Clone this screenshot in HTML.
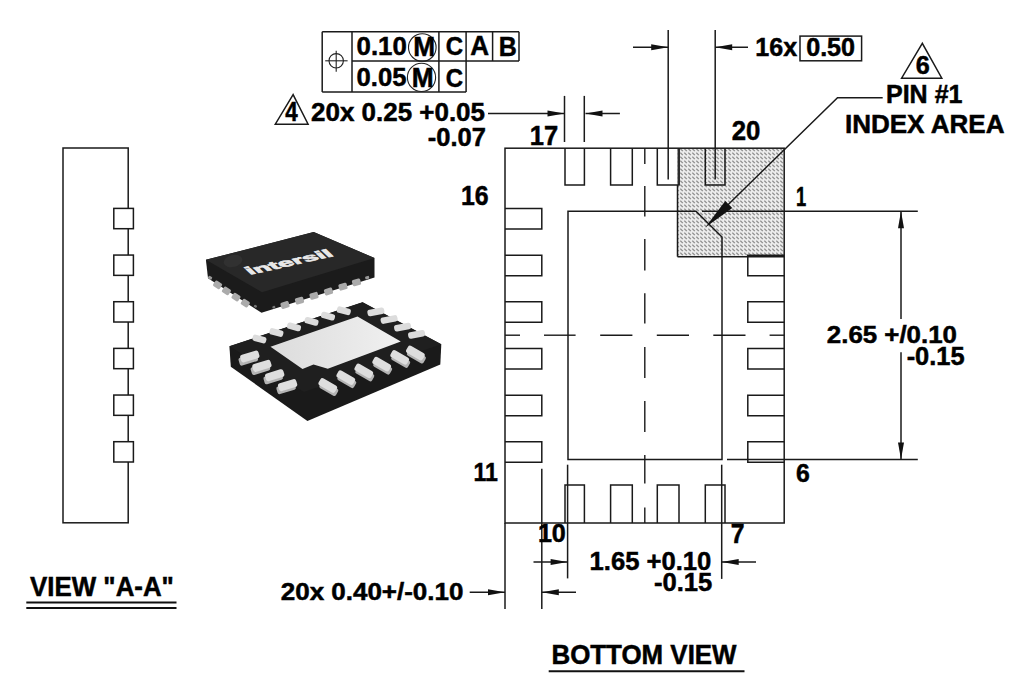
<!DOCTYPE html>
<html><head><meta charset="utf-8"><style>
html,body{margin:0;padding:0;background:#fff;width:1024px;height:685px;overflow:hidden}
svg{display:block}
.ln{stroke:#1a1a1a;stroke-width:1.5;fill:none}
.thin{stroke:#222;stroke-width:1.1;fill:none}
.cl{stroke:#1a1a1a;stroke-width:1.4;fill:none}
.ul{stroke:#111;stroke-width:2;fill:none}
.ah{fill:#111;stroke:none}
text{font-family:"Liberation Sans", sans-serif;font-weight:bold;fill:#000;stroke:#000;stroke-width:0.5}
</style></head><body>
<svg width="1024" height="685" viewBox="0 0 1024 685">
<defs>
<pattern id="hatch" width="4" height="4" patternUnits="userSpaceOnUse">
<rect width="4" height="4" fill="#ececec"/>
<path d="M0.3,0.6 L2.8,3.1" stroke="#8c8c8c" stroke-width="1.3"/>
</pattern>
</defs>
<g id="chips">
<defs>
<linearGradient id="epg" x1="0" y1="0" x2="1" y2="0">
<stop offset="0" stop-color="#dcdcdc"/><stop offset="1" stop-color="#f0f0f0"/>
</linearGradient>
</defs>
<path d="M205.9,259.8 L313.7,232.1 L374.5,258 L374.5,277.6 L261.5,312.8 L208,278.2 Z" fill="#1b1b1b"/>
<path d="M205.9,259.8 L313.7,232.1 L374.5,258 L262,292.2 Z" fill="#282828"/>
<ellipse cx="233" cy="261" rx="9.5" ry="6" fill="#313131" transform="rotate(-14 233 261)"/>
<rect x="-4.0" y="-3.25" width="8" height="6.5" rx="1.5" fill="#ababab" transform="translate(217.6,284.8) rotate(33)"/>
<rect x="-4.0" y="-3.25" width="8" height="6.5" rx="1.5" fill="#ababab" transform="translate(226.4,290.9) rotate(33)"/>
<rect x="-4.0" y="-3.25" width="8" height="6.5" rx="1.5" fill="#ababab" transform="translate(236.0,297.1) rotate(33)"/>
<rect x="-4.0" y="-3.25" width="8" height="6.5" rx="1.5" fill="#ababab" transform="translate(245.3,303.2) rotate(33)"/>
<rect x="-4.25" y="-3.25" width="8.5" height="6.5" rx="1.5" fill="#ababab" transform="translate(285.0,305.0) rotate(-16)"/>
<rect x="-4.25" y="-3.25" width="8.5" height="6.5" rx="1.5" fill="#ababab" transform="translate(299.5,300.6) rotate(-16)"/>
<rect x="-4.25" y="-3.25" width="8.5" height="6.5" rx="1.5" fill="#ababab" transform="translate(314.0,295.8) rotate(-16)"/>
<rect x="-4.25" y="-3.25" width="8.5" height="6.5" rx="1.5" fill="#ababab" transform="translate(328.5,291.5) rotate(-16)"/>
<rect x="-4.25" y="-3.25" width="8.5" height="6.5" rx="1.5" fill="#ababab" transform="translate(343.0,286.7) rotate(-16)"/>
<rect x="-4.25" y="-3.25" width="8.5" height="6.5" rx="1.5" fill="#ababab" transform="translate(356.5,282.4) rotate(-16)"/>
<rect x="-2.0" y="-1.5" width="4" height="3" rx="1" fill="#999" transform="translate(210.1,277.7) rotate(33)"/>
<rect x="-2.0" y="-1.5" width="4" height="3" rx="1" fill="#999" transform="translate(367.2,277.6) rotate(-16)"/>
<rect x="-1.5" y="-1.25" width="3" height="2.5" rx="1" fill="#777" transform="translate(255.4,306.3) rotate(33)"/>
<rect x="-1.5" y="-1.25" width="3" height="2.5" rx="1" fill="#777" transform="translate(273.8,307.2) rotate(-16)"/>
<text x="0" y="0" font-size="14" style="font-family:'Liberation Sans', sans-serif;font-weight:bold;fill:#e8e8e8;stroke:#e8e8e8;stroke-width:0.8" transform="matrix(1.845,-0.412,0.73,0.69,250,274.8)">intersil</text>
<path d="M229.4,346.2 L362.6,302.3 L441.3,344.2 L440.3,364.6 L307.4,420.9 L230.8,366.8 Z" fill="#1a1a1a"/>
<path d="M229.4,346.2 L362.6,302.3 L441.3,344.2 L304,392 Z" fill="#1f1f1f"/>
<path d="M270.5,346.7 L357.5,316.6 L400.8,341.5 L327.8,368.7 L313.5,364.5 L302.5,369.1 Z" fill="url(#epg)"/>
<rect x="-7.0" y="-3.25" width="14" height="6.5" rx="2.5" fill="#dcdcdc" transform="translate(259.4,339.0) rotate(15)"/>
<rect x="-7.0" y="-3.25" width="14" height="6.5" rx="2.5" fill="#dcdcdc" transform="translate(276.4,332.5) rotate(15)"/>
<rect x="-7.0" y="-3.25" width="14" height="6.5" rx="2.5" fill="#dcdcdc" transform="translate(294.0,326.9) rotate(15)"/>
<rect x="-7.0" y="-3.25" width="14" height="6.5" rx="2.5" fill="#dcdcdc" transform="translate(311.5,321.4) rotate(15)"/>
<rect x="-7.0" y="-3.25" width="14" height="6.5" rx="2.5" fill="#dcdcdc" transform="translate(328.0,316.1) rotate(15)"/>
<rect x="-7.0" y="-3.25" width="14" height="6.5" rx="2.5" fill="#dcdcdc" transform="translate(343.8,310.8) rotate(15)"/>
<rect x="-8.5" y="-3.25" width="17" height="6.5" rx="2.5" fill="#dcdcdc" transform="translate(375.9,311.9) rotate(-11)"/>
<rect x="-8.5" y="-3.25" width="17" height="6.5" rx="2.5" fill="#dcdcdc" transform="translate(389.1,319.5) rotate(-11)"/>
<rect x="-8.5" y="-3.25" width="17" height="6.5" rx="2.5" fill="#dcdcdc" transform="translate(402.6,327.1) rotate(-11)"/>
<rect x="-8.5" y="-3.25" width="17" height="6.5" rx="2.5" fill="#dcdcdc" transform="translate(416.6,334.4) rotate(-11)"/>
<rect x="-9.5" y="-4.0" width="19" height="8" rx="2" fill="#b4b4b4" transform="translate(248.3,359.5) rotate(-17)"/>
<rect x="-9.5" y="-4.0" width="19" height="8" rx="2.5" fill="#dedede" transform="translate(249.8,356.5) rotate(-17)"/>
<rect x="-9.5" y="-4.0" width="19" height="8" rx="2" fill="#b4b4b4" transform="translate(260.4,368.9) rotate(-17)"/>
<rect x="-9.5" y="-4.0" width="19" height="8" rx="2.5" fill="#dedede" transform="translate(261.9,365.9) rotate(-17)"/>
<rect x="-9.5" y="-4.0" width="19" height="8" rx="2" fill="#b4b4b4" transform="translate(273.2,378.2) rotate(-17)"/>
<rect x="-9.5" y="-4.0" width="19" height="8" rx="2.5" fill="#dedede" transform="translate(274.7,375.2) rotate(-17)"/>
<rect x="-9.5" y="-4.0" width="19" height="8" rx="2" fill="#b4b4b4" transform="translate(286.1,388.1) rotate(-17)"/>
<rect x="-9.5" y="-4.0" width="19" height="8" rx="2.5" fill="#dedede" transform="translate(287.6,385.1) rotate(-17)"/>
<rect x="-9.5" y="-4.0" width="19" height="8" rx="2" fill="#b4b4b4" transform="translate(328.8,388.5) rotate(30)"/>
<rect x="-9.5" y="-4.0" width="19" height="8" rx="2.5" fill="#dedede" transform="translate(327.8,385.5) rotate(30)"/>
<rect x="-9.5" y="-4.0" width="19" height="8" rx="2" fill="#b4b4b4" transform="translate(346.8,380.6) rotate(30)"/>
<rect x="-9.5" y="-4.0" width="19" height="8" rx="2.5" fill="#dedede" transform="translate(345.8,377.6) rotate(30)"/>
<rect x="-9.5" y="-4.0" width="19" height="8" rx="2" fill="#b4b4b4" transform="translate(364.8,373.9) rotate(30)"/>
<rect x="-9.5" y="-4.0" width="19" height="8" rx="2.5" fill="#dedede" transform="translate(363.8,370.9) rotate(30)"/>
<rect x="-9.5" y="-4.0" width="19" height="8" rx="2" fill="#b4b4b4" transform="translate(382.7,367.1) rotate(30)"/>
<rect x="-9.5" y="-4.0" width="19" height="8" rx="2.5" fill="#dedede" transform="translate(381.7,364.1) rotate(30)"/>
<rect x="-9.5" y="-4.0" width="19" height="8" rx="2" fill="#b4b4b4" transform="translate(400.7,360.4) rotate(30)"/>
<rect x="-9.5" y="-4.0" width="19" height="8" rx="2.5" fill="#dedede" transform="translate(399.7,357.4) rotate(30)"/>
<rect x="-9.5" y="-4.0" width="19" height="8" rx="2" fill="#b4b4b4" transform="translate(416.4,356.0) rotate(30)"/>
<rect x="-9.5" y="-4.0" width="19" height="8" rx="2.5" fill="#dedede" transform="translate(415.4,353.0) rotate(30)"/>
</g>
<rect x="677.5" y="148.2" width="107" height="108.5" fill="url(#hatch)"/>
<line class="ln" x1="677.5" y1="185" x2="677.5" y2="256.7"/>
<line class="ln" x1="677.5" y1="256.7" x2="784.2" y2="256.7"/>
<rect x="677.4" y="149" width="2.6" height="36" fill="#666"/>
<line class="ln" x1="322.2" y1="31.8" x2="519" y2="31.8"/>
<line class="ln" x1="352" y1="61.0" x2="519" y2="61.0"/>
<line class="ln" x1="322.2" y1="92.1" x2="466.1" y2="92.1"/>
<line class="ln" x1="322.2" y1="31.8" x2="322.2" y2="92.1"/>
<line class="ln" x1="352" y1="31.8" x2="352" y2="92.1"/>
<line class="ln" x1="438.9" y1="31.8" x2="438.9" y2="92.1"/>
<line class="ln" x1="466.1" y1="31.8" x2="466.1" y2="92.1"/>
<line class="ln" x1="492.6" y1="31.8" x2="492.6" y2="61.0"/>
<line class="ln" x1="519" y1="31.8" x2="519" y2="61.0"/>
<circle class="thin" cx="336.2" cy="60.8" r="7.2"/>
<line class="thin" x1="325.2" y1="60.8" x2="347.6" y2="60.8"/>
<line class="thin" x1="336.2" y1="50.8" x2="336.2" y2="71.7"/>
<circle class="thin" cx="422.3" cy="47.5" r="13.8"/>
<circle class="thin" cx="421.5" cy="77.4" r="14.1"/>
<path class="ln" d="M293.1,94.6 L275.3,124.2 L308.1,124.2 Z"/>
<path class="ln" d="M922.3,43.3 L901.6,78.2 L941.8,78.2 Z"/>
<line class="ln" x1="488" y1="113.4" x2="564.5" y2="113.4"/>
<path class="ah" d="M564.50,113.40 L547.50,110.40 L547.50,116.40 Z"/>
<line class="ln" x1="585.5" y1="113.4" x2="619.9" y2="113.4"/>
<path class="ah" d="M585.50,113.40 L602.50,116.40 L602.50,110.40 Z"/>
<line class="ln" x1="564.5" y1="95.9" x2="564.5" y2="142"/>
<line class="ln" x1="584.3" y1="95.9" x2="584.3" y2="142"/>
<line class="ln" x1="668.2" y1="30" x2="668.2" y2="179.5"/>
<line class="ln" x1="715.2" y1="30" x2="715.2" y2="179.5"/>
<line class="ln" x1="633" y1="47.3" x2="668.2" y2="47.3"/>
<path class="ah" d="M668.20,47.30 L651.20,44.30 L651.20,50.30 Z"/>
<line class="ln" x1="715.2" y1="47.3" x2="748" y2="47.3"/>
<path class="ah" d="M715.20,47.30 L732.20,50.30 L732.20,44.30 Z"/>
<rect class="ln" x="800" y="36.1" width="61.60" height="24.70"/>
<rect class="ln" x="505" y="148.2" width="279.20" height="374.80"/>
<path class="ln" d="M565,148.2 V185 H584.4 V148.2"/>
<path class="ln" d="M565,523 V485 H584.4 V523"/>
<path class="ln" d="M610.6,148.2 V185 H632.3 V148.2"/>
<path class="ln" d="M610.6,523 V485 H632.3 V523"/>
<path class="ln" d="M657.3,148.2 V185 H679 V148.2"/>
<path class="ln" d="M657.3,523 V485 H679 V523"/>
<path class="ln" d="M705.3,148.2 V185 H725 V148.2"/>
<path class="ln" d="M705.3,523 V485 H725 V523"/>
<path class="ln" d="M505,208.50 H541.8 V229.00 H505"/>
<path class="ln" d="M505,255.16 H541.8 V275.66 H505"/>
<path class="ln" d="M784.2,255.16 H747.8 V275.66 H784.2"/>
<path class="ln" d="M505,301.82 H541.8 V322.32 H505"/>
<path class="ln" d="M784.2,301.82 H747.8 V322.32 H784.2"/>
<path class="ln" d="M505,348.48 H541.8 V368.98 H505"/>
<path class="ln" d="M784.2,348.48 H747.8 V368.98 H784.2"/>
<path class="ln" d="M505,395.14 H541.8 V415.64 H505"/>
<path class="ln" d="M784.2,395.14 H747.8 V415.64 H784.2"/>
<path class="ln" d="M505,441.80 H541.8 V462.30 H505"/>
<path class="ln" d="M784.2,441.80 H747.8 V462.30 H784.2"/>
<path class="ln" d="M568,211.2 H696 L722,237 V459.5 H568 Z"/>
<line class="ln" x1="702" y1="211.2" x2="917.8" y2="211.2"/>
<line class="ln" x1="727" y1="459.5" x2="917.8" y2="459.5"/>
<line class="ln" x1="901" y1="211.2" x2="901" y2="319"/>
<line class="ln" x1="901" y1="352.3" x2="901" y2="459.5"/>
<path class="ah" d="M901.00,211.20 L898.00,228.20 L904.00,228.20 Z"/>
<path class="ah" d="M901.00,459.50 L904.00,442.50 L898.00,442.50 Z"/>
<line class="cl" x1="644.8" y1="148.2" x2="644.8" y2="164"/>
<line class="cl" x1="644.8" y1="186" x2="644.8" y2="216.5"/>
<line class="cl" x1="644.8" y1="239" x2="644.8" y2="270.5"/>
<line class="cl" x1="644.8" y1="293.3" x2="644.8" y2="323.5"/>
<line class="cl" x1="644.8" y1="347" x2="644.8" y2="378"/>
<line class="cl" x1="644.8" y1="401" x2="644.8" y2="432"/>
<line class="cl" x1="644.8" y1="455" x2="644.8" y2="483.5"/>
<line class="cl" x1="644.8" y1="507.4" x2="644.8" y2="523"/>
<line class="cl" x1="505" y1="335.2" x2="520" y2="335.2"/>
<line class="cl" x1="544" y1="335.2" x2="575.6" y2="335.2"/>
<line class="cl" x1="600.2" y1="335.2" x2="632.4" y2="335.2"/>
<line class="cl" x1="656.8" y1="335.2" x2="689" y2="335.2"/>
<line class="cl" x1="713.3" y1="335.2" x2="745.5" y2="335.2"/>
<line class="cl" x1="769.6" y1="335.2" x2="784.2" y2="335.2"/>
<line class="ln" x1="505" y1="523" x2="505" y2="608.9"/>
<line class="ln" x1="541.8" y1="468.8" x2="541.8" y2="608.9"/>
<line class="ln" x1="567.6" y1="464.7" x2="567.6" y2="578.4"/>
<line class="ln" x1="721.7" y1="464.7" x2="721.7" y2="578.9"/>
<line class="ln" x1="533.5" y1="561.9" x2="567.6" y2="561.9"/>
<path class="ah" d="M567.60,561.90 L550.60,558.90 L550.60,564.90 Z"/>
<line class="ln" x1="721.7" y1="562.1" x2="756" y2="562.1"/>
<path class="ah" d="M721.70,562.10 L738.70,565.10 L738.70,559.10 Z"/>
<line class="ln" x1="469.7" y1="592.3" x2="505" y2="592.3"/>
<path class="ah" d="M505.00,592.30 L488.00,589.30 L488.00,595.30 Z"/>
<line class="ln" x1="541.8" y1="592.3" x2="576" y2="592.3"/>
<path class="ah" d="M541.80,592.30 L558.80,595.30 L558.80,589.30 Z"/>
<polyline class="ln" fill="none" points="882.7,97.7 837.5,97.7 716,216.5"/>
<path class="ah" d="M705.20,227.60 L732.25,208.05 L725.24,200.91 Z"/>
<rect class="ln" x="63" y="148" width="65.20" height="374.80"/>
<rect class="ln" style="fill:#fff" x="113.8" y="208.40" width="19.6" height="20.3"/>
<rect class="ln" style="fill:#fff" x="113.8" y="255.06" width="19.6" height="20.3"/>
<rect class="ln" style="fill:#fff" x="113.8" y="301.72" width="19.6" height="20.3"/>
<rect class="ln" style="fill:#fff" x="113.8" y="348.38" width="19.6" height="20.3"/>
<rect class="ln" style="fill:#fff" x="113.8" y="395.04" width="19.6" height="20.3"/>
<rect class="ln" style="fill:#fff" x="113.8" y="441.70" width="19.6" height="20.3"/>
<line class="ul" x1="26.3" y1="602.5" x2="176.5" y2="602.5"/>
<line class="ul" x1="26.3" y1="608.1" x2="176.5" y2="608.1"/>
<line class="ul" x1="548.7" y1="671.2" x2="744.5" y2="671.2"/>
<text id="t010" font-size="26.574" transform="translate(356.54,55.13) scale(0.9716,1)">0.10</text>
<text id="tM1" font-size="27.164" transform="translate(413.21,55.55) scale(0.9680,1)">M</text>
<text id="tC1" font-size="26.574" transform="translate(445.80,55.23) scale(0.9017,1)">C</text>
<text id="tA" font-size="26.738" transform="translate(470.24,55.35) scale(0.9738,1)">A</text>
<text id="tB" font-size="27.164" transform="translate(498.79,55.65) scale(0.9188,1)">B</text>
<text id="t005" font-size="26.435" transform="translate(356.55,86.34) scale(0.9687,1)">0.05</text>
<text id="tM2" font-size="27.022" transform="translate(411.81,86.75) scale(0.9731,1)">M</text>
<text id="tC2" font-size="26.574" transform="translate(445.80,86.53) scale(0.9017,1)">C</text>
<text id="t4" font-size="26.738" transform="translate(285.25,121.05) scale(0.8378,1)">4</text>
<text id="t20x" font-size="25.878" transform="translate(311.04,121.25) scale(1.0038,1)">20x 0.25 +0.05</text>
<text id="t007" font-size="25.600" transform="translate(427.85,145.75) scale(0.9945,1)">-0.07</text>
<text id="t17" font-size="27.591" transform="translate(529.75,144.55) scale(0.9265,1)">17</text>
<text id="t20" font-size="26.991" transform="translate(731.75,140.13) scale(0.9542,1)">20</text>
<text id="t16x" font-size="26.157" transform="translate(755.28,55.94) scale(0.9580,1)">16x</text>
<text id="t050" font-size="25.739" transform="translate(806.16,55.95) scale(0.9762,1)">0.50</text>
<text id="t6a" font-size="25.600" transform="translate(915.66,74.15) scale(0.9844,1)">6</text>
<text id="tpin" font-size="25.742" transform="translate(885.99,103.05) scale(0.9719,1)">PIN #1</text>
<text id="tidx" font-size="26.169" transform="translate(844.92,133.25) scale(0.9952,1)">INDEX AREA</text>
<text id="t16" font-size="26.991" transform="translate(460.99,204.73) scale(0.9218,1)">16</text>
<text id="t1" font-size="27.307" transform="translate(796.10,205.85) scale(0.6719,1)">1</text>
<text id="t265" font-size="23.641" transform="translate(826.84,342.51) scale(1.0941,1)">2.65 +/0.10</text>
<text id="t015r" font-size="25.461" transform="translate(906.66,365.45) scale(0.9982,1)">-0.15</text>
<text id="t11" font-size="26.311" transform="translate(473.51,481.35) scale(0.8779,1)">11</text>
<text id="t6b" font-size="25.878" transform="translate(795.88,482.05) scale(0.9583,1)">6</text>
<text id="t10" font-size="25.461" transform="translate(537.88,542.45) scale(0.9884,1)">10</text>
<text id="t7" font-size="27.591" transform="translate(730.68,542.85) scale(0.8979,1)">7</text>
<text id="t165" font-size="26.296" transform="translate(589.55,569.94) scale(0.9746,1)">1.65 +0.10</text>
<text id="t015b" font-size="26.017" transform="translate(653.95,590.84) scale(0.9837,1)">-0.15</text>
<text id="t040" font-size="24.163" transform="translate(280.74,599.79) scale(1.0754,1)">20x 0.40+/-0.10</text>
<text id="tview" font-size="27.164" transform="translate(30.05,595.65) scale(0.9533,1)">VIEW &quot;A-A&quot;</text>
<text id="tbot" font-size="27.130" transform="translate(551.43,663.63) scale(0.9549,1)">BOTTOM VIEW</text>
</svg>
</body></html>
